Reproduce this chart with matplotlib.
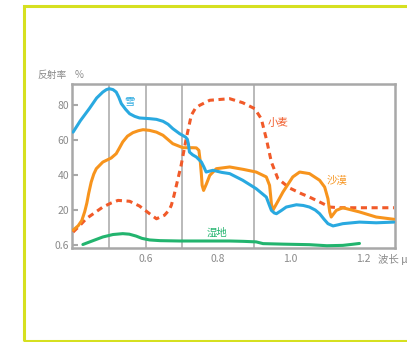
import matplotlib.pyplot as plt
from matplotlib.patches import Rectangle

plt.rcParams['font.family'] = ['Noto Sans CJK SC', 'DejaVu Sans']

# snow (雪)
snow_x = [0.400, 0.420, 0.445, 0.465, 0.482, 0.492, 0.500, 0.510, 0.519, 0.526, 0.533, 0.545,
          0.556, 0.570, 0.583, 0.611, 0.630, 0.648, 0.662, 0.675, 0.694, 0.710, 0.715, 0.718,
          0.721, 0.730, 0.740, 0.754, 0.761, 0.767, 0.776, 0.786, 0.810, 0.832, 0.868, 0.905,
          0.933, 0.941, 0.947, 0.955, 0.961, 0.975, 0.988, 1.016, 1.035, 1.052, 1.068, 1.080,
          1.092, 1.103, 1.117, 1.130, 1.144, 1.190, 1.236, 1.285]
snow_y = [64.5, 71, 78, 84, 87.4, 88.8, 89.3, 88.8, 87.4, 84.5, 80.8, 77.5, 75, 73.5, 72.6,
          72.2, 71.8, 70.7, 69, 66.5, 63.6, 61.7, 60.5, 57.9, 53.1, 51.5, 50.3, 47.4, 44.5,
          41.7, 42.2, 42.7, 41.5, 40.8, 37, 32.2, 27.4, 23, 19.8, 18.3, 17.9, 19.8, 21.7, 23,
          22.6, 21.7, 20, 17.9, 14.8, 12.2, 10.9, 11.5, 12.2, 13.1, 12.7, 13.1]

# desert (沙漠)
sand_x = [0.400, 0.414, 0.424, 0.432, 0.438, 0.443, 0.450, 0.457, 0.464, 0.482, 0.505, 0.519,
          0.528, 0.537, 0.550, 0.565, 0.580, 0.593, 0.611, 0.630, 0.648, 0.675, 0.703, 0.730,
          0.740, 0.747, 0.751, 0.754, 0.756, 0.760, 0.768, 0.777, 0.795, 0.832, 0.870, 0.905,
          0.933, 0.942, 0.945, 0.947, 0.951, 0.965, 0.979, 1.006, 1.025, 1.052, 1.080, 1.094,
          1.103, 1.108, 1.112, 1.126, 1.144, 1.190, 1.236, 1.285]
sand_y = [8.5, 11, 14, 19, 24, 29.5, 36, 40.5, 43.6, 47.4, 49.7, 52.2, 55.5, 58.9, 62.2, 64.2,
          65.3, 65.9, 65.5, 64.5, 62.7, 57.9, 55.6, 55.6, 55.5, 54.1, 47.4, 40, 34.1, 31.2, 35,
          39.8, 43.6, 44.6, 43.2, 41.7, 38.9, 34.1, 28, 23.6, 19.8, 25, 30.3, 38.9, 41.7,
          40.8, 37, 33.1, 26.5, 18.9, 16, 19.8, 21.3, 18.9, 16, 14.7]

# wheat (小麦)
wheat_x = [0.400, 0.418, 0.436, 0.460, 0.482, 0.505, 0.524, 0.556, 0.583, 0.611, 0.630, 0.652,
           0.665, 0.671, 0.678, 0.685, 0.698, 0.712, 0.726, 0.737, 0.749, 0.777, 0.813, 0.832,
           0.868, 0.901, 0.919, 0.933, 0.947, 0.965, 0.997, 1.030, 1.052, 1.080, 1.108, 1.135,
           1.200, 1.285]
wheat_y = [7.4, 11, 15, 18.5, 21.7, 24, 25.5, 25, 22.3, 17.9, 15, 17, 20, 22.7, 28, 34.1,
           45.5, 60.7, 74.1, 78, 79.8, 82.7, 83.3, 83.6, 81.3, 77.9, 72.2, 60.7, 47.4, 37.9,
           32.6, 29.3, 27.4, 24.6, 21.7, 21.3, 21.3, 21.3]

# wetland (湿地)
wet_x = [0.427, 0.455, 0.482, 0.510, 0.537, 0.555, 0.574, 0.590, 0.611, 0.640, 0.694, 0.760,
         0.832, 0.870, 0.905, 0.924, 0.980, 1.052, 1.100, 1.144, 1.170, 1.190]
wet_y = [0.3, 2.5, 4.6, 6.0, 6.5, 6.2, 5.1, 3.8, 2.9, 2.5, 2.3, 2.3, 2.3, 2.1, 1.8, 0.8,
         0.5, 0.2, -0.4, -0.2, 0.4, 0.9]

x_ticks = [0.6, 0.8, 1.0, 1.2]
x_tick_labels = ['0.6', '0.8', '1.0', '1.2']
y_ticks = [0, 20, 40, 60, 80]
y_tick_labels = ['0.6', '20', '40', '60', '80']
grid_x = [0.5, 0.6, 0.7, 0.9]

fig = plt.figure(figsize=(4.07, 3.42), dpi=100)
fig.patches.append(Rectangle((23.5 / 407, 1.5 / 342), 1.2, 335 / 342, transform=fig.transFigure,
                             fill=False, edgecolor='#d6e020', linewidth=2.2))

ax = fig.add_axes([72 / 407, 94 / 342, 323 / 407, 164 / 342])
ax.set_xlim(0.397, 1.288)
ax.set_ylim(-1.7, 92)

for gx in grid_x:
    ax.axvline(gx, color='#b4b4b4', linewidth=1.3, zorder=1)

line_kw = dict(linewidth=2.2, solid_joinstyle='round', solid_capstyle='round')
ax.plot(wet_x, wet_y, color='#22b46e', zorder=3, **line_kw)
ax.plot(wheat_x, wheat_y, color='#f15a29', linewidth=2.2, linestyle=(0, (2.0, 1.5)), zorder=3)
ax.plot(sand_x, sand_y, color='#f7941d', zorder=4, **line_kw)
ax.plot(snow_x, snow_y, color='#29a9e0', zorder=5, **line_kw)

for s in ax.spines.values():
    s.set_color('#a8a8a8')
    s.set_linewidth(1.8)

ax.set_xticks(x_ticks, x_tick_labels)
ax.set_yticks(y_ticks, y_tick_labels)
ax.tick_params(axis='both', direction='in', colors='#a8a8a8', labelcolor='#8a8a8a', labelsize=7.5,
               length=4, width=1.5, pad=2)
ax.tick_params(axis='x', length=0, pad=4)

ax.text(0.556, 82, '雪', color='#29a9e0', fontsize=7.5, ha='center', va='center')
ax.text(0.937, 70, '小麦', color='#f15a29', fontsize=7.5, ha='left', va='center')
ax.text(1.099, 36.6, '沙漠', color='#f7941d', fontsize=7.5, ha='left', va='center')
ax.text(0.796, 7, '湿地', color='#22b46e', fontsize=7.5, ha='center', va='center')

ax.text(1.241, -8.5, '波长 μm', color='#8a8a8a', fontsize=7.5, ha='left', va='center',
        clip_on=False)
fig.text(37 / 407, 1 - 75 / 342, '反射率', color='#8a8a8a', fontsize=7, ha='left', va='center')
fig.text(75 / 407, 1 - 75 / 342, '%', color='#8a8a8a', fontsize=7, ha='left', va='center')

fig.savefig('out.png', dpi=100)
